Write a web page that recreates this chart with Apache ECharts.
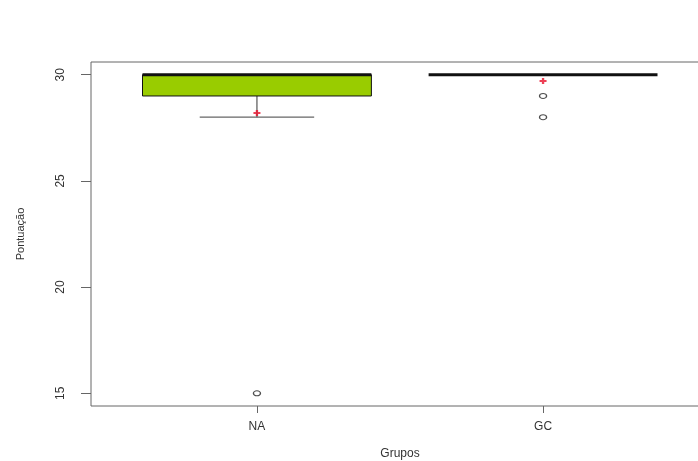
<!DOCTYPE html>
<html><head><meta charset="utf-8">
<script src="https://cdn.jsdelivr.net/npm/echarts@6/dist/echarts.min.js"></script>
<style>html,body{margin:0;padding:0;background:#fff}#c{width:698px;height:461px}</style>
</head><body><div id="c"></div>
<script>
const categories = ['NA', 'GC'];
// [lower whisker, Q1, median, Q3, upper whisker]
const boxStats = [
  [28, 29, 30, 30, 30],
  [30, 30, 30, 30, 30]
];
const means = [28.2, 29.7];
const outliers = [[1, 15], [2, 29], [2, 28]];
const yTicks = [15, 20, 25, 30];
const xTicks = [1, 2];

const boxData = boxStats.map((s, i) => [i + 1].concat(s));
const meanData = means.map((m, i) => [i + 1, m]);

const chart = echarts.init(document.getElementById('c'), null, {renderer: 'canvas'});
const FONT = 'Liberation Sans';
chart.setOption({
  animation: false,
  grid: {left: 91, top: 62, bottom: 55, right: -11, containLabel: false, outerBoundsMode: 'none',
    show: true, borderColor: '#666', borderWidth: 1, backgroundColor: 'transparent'},
  xAxis: {
    type: 'value', min: 0.42, max: 2.58,
    splitLine: {show: false},
    axisLine: {show: false},
    axisTick: {show: true, length: 7, customValues: xTicks, lineStyle: {color: '#666'}},
    axisLabel: {customValues: xTicks, margin: 15, fontFamily: FONT, fontSize: 12, color: '#333',
      formatter: v => categories[Math.round(v) - 1] || ''},
    name: 'Grupos', nameLocation: 'middle', nameGap: 42,
    nameTextStyle: {fontFamily: FONT, fontSize: 12, color: '#333'}
  },
  yAxis: {
    type: 'value', min: 14.4, max: 30.6,
    splitLine: {show: false},
    axisLine: {show: false},
    axisTick: {show: true, length: 10, customValues: yTicks, lineStyle: {color: '#666'}},
    axisLabel: {customValues: yTicks, rotate: 90, margin: 24, fontFamily: FONT, fontSize: 12, color: '#333'},
    name: 'Pontuação', nameLocation: 'middle', nameGap: 65, nameRotate: 90,
    nameTextStyle: {fontFamily: FONT, fontSize: 11, color: '#333'}
  },
  series: [
    {
      type: 'custom',
      data: boxData,
      renderItem: function (params, api) {
        const x = api.value(0);
        const lo = api.value(1), q1 = api.value(2), med = api.value(3), q3 = api.value(4), hi = api.value(5);
        const hw = 0.4, cw = 0.2;
        const pL = api.coord([x - hw, q3]);
        const pR = api.coord([x + hw, q1]);
        const children = [];
        const c = api.coord([x, lo]);
        const cq1 = api.coord([x, q1]);
        const cq3 = api.coord([x, q3]);
        const ch = api.coord([x, hi]);
        const capL = api.coord([x - cw, lo])[0];
        const capR = api.coord([x + cw, lo])[0];
        const capL2 = api.coord([x - cw, hi])[0];
        const capR2 = api.coord([x + cw, hi])[0];
        if (lo < q1) {
          children.push({type: 'line', shape: {x1: c[0], y1: cq1[1], x2: c[0], y2: c[1]}, style: {stroke: '#555', lineWidth: 1.2}});
          children.push({type: 'line', shape: {x1: capL, y1: c[1], x2: capR, y2: c[1]}, style: {stroke: '#666', lineWidth: 1.2}});
        }
        if (hi > q3) {
          children.push({type: 'line', shape: {x1: ch[0], y1: cq3[1], x2: ch[0], y2: ch[1]}, style: {stroke: '#555', lineWidth: 1.2}});
          children.push({type: 'line', shape: {x1: capL2, y1: ch[1], x2: capR2, y2: ch[1]}, style: {stroke: '#666', lineWidth: 1.2}});
        }
        if (q3 > q1) {
          children.push({type: 'rect', shape: {x: pL[0], y: pL[1], width: pR[0] - pL[0], height: pR[1] - pL[1]},
            style: {fill: '#99cc00', stroke: '#111', lineWidth: 1}});
        }
        const m = api.coord([x, med]);
        children.push({type: 'line', shape: {x1: pL[0], y1: m[1], x2: pR[0], y2: m[1]}, style: {stroke: '#111', lineWidth: 3}});
        return {type: 'group', children: children};
      },
      z: 2
    },
    {
      type: 'scatter',
      data: outliers,
      symbol: 'circle',
      symbolSize: [7, 5],
      itemStyle: {color: '#fff', borderColor: '#222', borderWidth: 1.2},
      z: 3
    },
    {
      type: 'scatter',
      data: meanData,
      symbol: 'path://M2,0 L4,0 L4,2 L6,2 L6,4 L4,4 L4,6 L2,6 L2,4 L0,4 L0,2 L2,2 Z',
      symbolSize: [7, 6],
      itemStyle: {color: '#e8102a'},
      z: 4
    }
  ]
});
</script></body></html>
